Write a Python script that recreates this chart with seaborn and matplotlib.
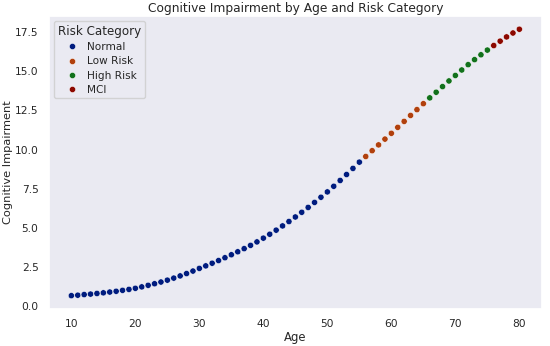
import pandas as pd
import matplotlib.pyplot as plt
import seaborn as sns

# values
ages = list(range(10, 81))
impairment = [
    0.68, 0.71, 0.75, 0.78, 0.82, 0.86, 0.91, 0.96, 1.02, 1.08,
    1.15, 1.24, 1.34, 1.44, 1.55, 1.67, 1.80, 1.94, 2.09, 2.25,
    2.42, 2.58, 2.75, 2.92, 3.10, 3.29, 3.48, 3.68, 3.89, 4.11,
    4.35, 4.60, 4.86, 5.13, 5.41, 5.70, 6.00, 6.31, 6.63, 6.96,
    7.30, 7.66, 8.03, 8.41, 8.80, 9.20, 9.56, 9.93, 10.30, 10.67,
    11.04, 11.42, 11.80, 12.18, 12.55, 12.93, 13.30, 13.66, 14.02, 14.38,
    14.73, 15.08, 15.42, 15.74, 16.05, 16.35, 16.64, 16.92, 17.19, 17.44,
    17.68,
]
categories = ["Normal", "Low Risk", "High Risk", "MCI"]
category_counts = [46, 10, 10, 5]

risk = []
for cat, n in zip(categories, category_counts):
    risk += [cat] * n

df = pd.DataFrame({"Age": ages, "Cognitive Impairment": impairment, "Risk Category": risk})

sns.set_theme(style="dark", font_scale=0.7)
fig = plt.figure(figsize=(5.5, 3.46), dpi=100)

ax = sns.scatterplot(data=df, x="Age", y="Cognitive Impairment", hue="Risk Category",
                     hue_order=categories, palette="dark", s=20)
ax.set_title("Cognitive Impairment by Age and Risk Category", fontsize=8.8, pad=3)
ax.set_xlabel("Age", fontsize=8.4, labelpad=1)
ax.set_ylabel("Cognitive Impairment", fontsize=8.2, labelpad=1)
ax.tick_params(axis="both", pad=1.5)
ax.legend(title="Risk Category", loc="upper left", fontsize=7.6, title_fontsize=8.6,
          handletextpad=0.4, borderpad=0.35, labelspacing=0.4)

fig.subplots_adjust(left=0.089, right=0.985, top=0.954, bottom=0.107)
plt.savefig("out.png", dpi=100)
